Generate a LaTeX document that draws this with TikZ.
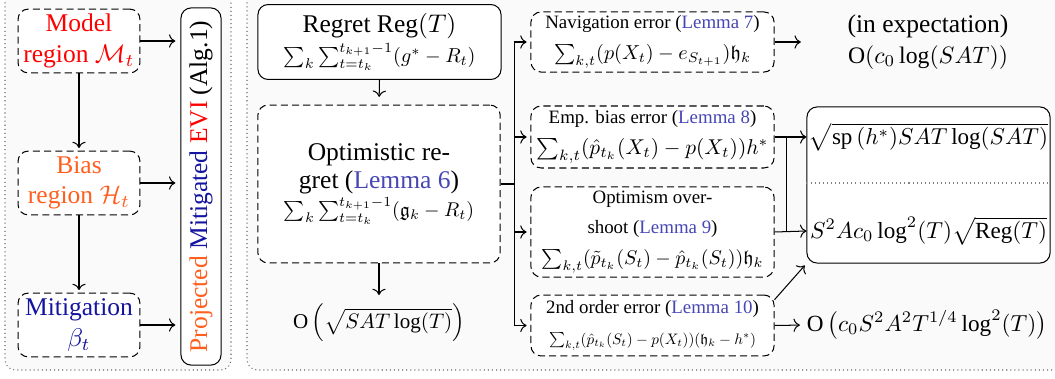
\documentclass[tikz,border=0pt]{standalone}
\usepackage{amsmath,amssymb,graphicx}
\usepackage{fontspec}
\setmainfont{Liberation Serif}
\usetikzlibrary{arrows.meta}
\definecolor{modelred}{RGB}{255,0,0}
\definecolor{biasorange}{RGB}{255,95,30}
\definecolor{navy}{RGB}{20,20,160}
\definecolor{lemmablue}{RGB}{70,70,180}
\definecolor{panelfill}{RGB}{250,250,250}
\newcommand\lfont{\fontsize{7.4}{8}\selectfont}
\newcommand\lem[1]{{\color{lemmablue}Lemma~#1}}
\newcommand\fw[2]{\resizebox{#1}{!}{$#2$}}
\begin{document}
\begin{tikzpicture}[x=0.392pt,y=-0.392pt,
  dbox/.style={draw, dash pattern=on 2.8pt off 1.6pt, rounded corners=4pt, fill=white, align=center, inner sep=1.5pt},
  sbox/.style={draw, rounded corners=4pt, fill=white, align=center},
  panel/.style={draw=black!60, dash pattern=on 0.4pt off 1.2pt, fill=panelfill, rounded corners=4pt},
  arr/.style={->, shorten >=1pt},
  sepline/.style={draw=black!50, dash pattern=on 0.4pt off 1.2pt}]
\useasboundingbox (0,0) rectangle (1055,379);
% panels
\draw[panel] (5,-12) rectangle (231,370);
\draw[panel] (247,-12) rectangle (1075,370);
% left column
\node[dbox, text=modelred, minimum width=47.8pt, minimum height=25pt] (model) at (79,41) {Model\\region $\mathcal{M}_t$};
\node[dbox, text=biasorange, minimum width=47.8pt, minimum height=25pt] (bias) at (79,183) {Bias\\region $\mathcal{H}_t$};
\node[dbox, text=navy, minimum width=47.8pt, minimum height=25pt] (mitig) at (79,325) {Mitigation\\$\beta_t$};
\node[draw, rounded corners=4pt, fill=white, rotate=90, minimum width=140pt, minimum height=15.7pt, inner sep=0pt] (proj) at (201,186.5)
  {{\color{biasorange}Projected} {\color{navy}Mitigated} {\color{modelred}EVI} (Alg.1)};
\draw[arr] (model.south) -- (bias.north);
\draw[arr] (bias.south) -- (mitig.north);
\draw[->, shorten >=2pt] (model.east) -- (model.east -| proj.north);
\draw[->, shorten >=2pt] (bias.east) -- (bias.east -| proj.north);
\draw[->, shorten >=2pt] (mitig.east) -- (mitig.east -| proj.north);
% middle column
\node[sbox, minimum width=95.3pt, minimum height=29pt] (regret) at (379.5,42)
  {Regret $\mathrm{Reg}(T)$\\ \fw{75.3pt}{\sum_k \sum_{t=t_k}^{t_{k+1}-1}(g^* - R_t)}};
\node[dbox, minimum width=95pt, minimum height=61.9pt, font=\fontsize{10}{11}\selectfont] (optim) at (379,184)
  {Optimistic re-\\gret (\lem{6})\\ \fw{74.5pt}{\sum_k \sum_{t=t_k}^{t_{k+1}-1}(\mathfrak{g}_k - R_t)}};
\node (obound) at (379,323) {\fw{67.4pt}{\mathrm{O}\left(\sqrt{SAT\log(T)}\right)}};
\draw[->, shorten >=3pt] (regret.south) -- (optim.north);
\draw[->] (optim.south) -- (obound.north);
% error terms
\node[dbox, minimum width=95.3pt, minimum height=23.5pt] (nav) at (652.5,42)
  {{\lfont Navigation error (\lem{7})}\\ \fw{77.2pt}{\sum_{k,t}(p(X_t) - e_{S_{t+1}})\mathfrak{h}_k}};
\node[dbox, minimum width=95.3pt, minimum height=24.3pt] (emp) at (652.5,137)
  {{\lfont Emp. bias error (\lem{8})}\\ \fw{91pt}{\sum_{k,t}(\hat{p}_{t_k}(X_t) - p(X_t))h^*}};
\node[dbox, minimum width=95.3pt, minimum height=35.3pt] (opt) at (652.5,232)
  {{\lfont Optimism over-}\\{\lfont shoot (\lem{9})}\\ \fw{87pt}{\sum_{k,t}(\tilde{p}_{t_k}(S_t) - \hat{p}_{t_k}(S_t))\mathfrak{h}_k}};
\node[dbox, minimum width=95.3pt, minimum height=23.9pt] (second) at (652.5,325.5)
  {{\lfont 2nd order error (\lem{10})}\\ \fw{81.1pt}{\sum_{k,t}(\hat{p}_{t_k}(S_t) - p(X_t))(\mathfrak{h}_k - h^*)}};
\coordinate (fork) at (514,184);
\draw[thick] (optim.east) -- (fork |- optim.east);
\draw (fork |- nav.west) -- (fork |- second.west);
\draw[->, shorten >=1.5pt] (fork |- nav.west) -- (nav.west);
\draw[->, shorten >=1.5pt] (fork |- emp.west) -- (emp.west);
\draw[->, shorten >=1.5pt] (fork |- opt.west) -- (opt.west);
\draw[->, shorten >=1.5pt] (fork |- second.west) -- (second.west);
% right column
\node[align=center, minimum width=95.3pt] (expect) at (928,42) {(in expectation)\\ \fw{62.7pt}{\mathrm{O}(c_0\log(SAT))}};
\node[sbox, minimum width=95.3pt, minimum height=61.2pt] (bound) at (928.5,185) {};
\node[minimum width=95.3pt, inner sep=0pt] (b1) at (928.5,137) {\fw{93.7pt}{\sqrt{\mathrm{sp}\,(h^*)SAT\log(SAT)}}};
\node[minimum width=95.3pt, inner sep=0pt] (b2) at (928.5,231) {\fw{92.9pt}{S^2Ac_0\log^2(T)\sqrt{\mathrm{Reg}(T)}}};
\coordinate (sep) at (0,183);
\draw[sepline] (bound.west |- sep) -- (bound.east |- sep);
\node[minimum width=95.3pt, inner sep=0pt] (final) at (927,325) {\fw{94.1pt}{\mathrm{O}\left(c_0S^2A^2T^{1/4}\log^2(T)\right)}};
\draw[->, shorten >=2pt] (nav.east) -- (expect.west);
\draw[->] (emp.east) -- (b1.west);
\draw[->] (opt.east) -- (b2.west);
\coordinate (vj) at (786,0);
\draw (vj |- emp.east) -- (vj |- opt.east);
\draw[->, shorten >=1pt] ([yshift=-2pt]second.north east) -- (bound.south west);
\draw[->, shorten >=2pt] (second.east) -- (final.west);
\end{tikzpicture}
\end{document}
